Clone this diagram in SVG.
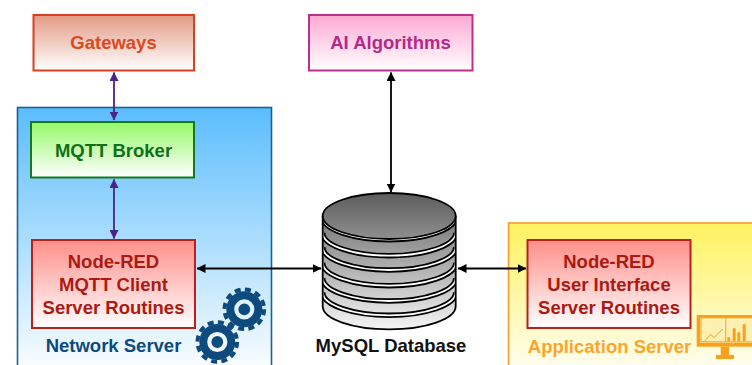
<svg xmlns="http://www.w3.org/2000/svg" width="752" height="365" viewBox="0 0 752 365">
<defs>
<linearGradient id="gGate" x1="0" y1="0" x2="0" y2="1"><stop offset="0" stop-color="#e39a85"/><stop offset="1" stop-color="#fff"/></linearGradient>
<linearGradient id="gAI" x1="0" y1="0" x2="0" y2="1"><stop offset="0" stop-color="#ffa9d3"/><stop offset="1" stop-color="#fff"/></linearGradient>
<linearGradient id="gNet" x1="0" y1="0" x2="0" y2="1"><stop offset="0" stop-color="#5bbdfd"/><stop offset="1" stop-color="#fff"/></linearGradient>
<linearGradient id="gBroker" x1="0" y1="0" x2="0" y2="1"><stop offset="0" stop-color="#95f868"/><stop offset="1" stop-color="#fff"/></linearGradient>
<linearGradient id="gRed" x1="0" y1="0" x2="0" y2="1"><stop offset="0" stop-color="#ff8f8a"/><stop offset="1" stop-color="#fff"/></linearGradient>
<linearGradient id="gApp" x1="0" y1="0" x2="0" y2="1"><stop offset="0" stop-color="#fff25f"/><stop offset="1" stop-color="#fff"/></linearGradient>
<linearGradient id="gDb" gradientUnits="userSpaceOnUse" x1="0" y1="193" x2="0" y2="330"><stop offset="0" stop-color="#5c5c5c"/><stop offset="1" stop-color="#f6f6f6"/></linearGradient>
<marker id="ap" viewBox="0 0 9 9" refX="8.5" refY="4.5" markerWidth="9" markerHeight="9" markerUnits="userSpaceOnUse" orient="auto-start-reverse"><path d="M0 0L9 4.5L0 9Z" fill="#4a2388"/></marker>
<marker id="ak" viewBox="0 0 9 9" refX="8.5" refY="4.5" markerWidth="9" markerHeight="9" markerUnits="userSpaceOnUse" orient="auto-start-reverse"><path d="M0 0L9 4.5L0 9Z" fill="#000"/></marker>
<path id="arc" d="M322.7 0A66.5 23 0 0 0 455.7 0"/>
<clipPath id="cyl"><rect x="322.7" y="210" width="133" height="125"/></clipPath>
</defs>
<style>
text{font-family:"Liberation Sans",Arial,sans-serif;font-weight:700;font-size:18.5px;text-anchor:middle}
.box{stroke-width:2}
.c{fill:none;stroke-width:1.8}
.p{stroke:#4a2388;marker-start:url(#ap);marker-end:url(#ap)}
.k{stroke:#000;marker-start:url(#ak);marker-end:url(#ak)}
.red{fill:#ab1a12}
.redbox{fill:url(#gRed);stroke:#b8221b}
.gear{fill:#0d4a7d}
.teeth{fill:none;stroke:#0d4a7d;stroke-width:4;stroke-dasharray:6 4.37}
.ab{fill:none;stroke:#000;stroke-width:5.4}
.aw{fill:none;stroke:#fff;stroke-width:1.8}
.mon{fill:#f9a01e}
.ml{fill:none;stroke:#f9a01e;stroke-width:1}
</style>
<rect width="752" height="365" fill="#fff"/>
<g id="network-server">
<rect x="17.5" y="107.5" width="254" height="270" fill="url(#gNet)" stroke="#1a6294" stroke-width="1.6"/>
<text x="113.5" y="352" fill="#0d4a7d">Network Server</text>
</g>
<g id="application-server">
<rect x="508.5" y="223" width="260" height="160" fill="url(#gApp)" stroke="#fb9d2c" stroke-width="1.6"/>
<text x="609.5" y="352.5" fill="#fba52c">Application Server</text>
</g>
<g id="gateways">
<rect class="box" x="33.5" y="15" width="160.5" height="55.5" fill="url(#gGate)" stroke="#d8401f"/>
<text x="113.5" y="49" fill="#db4a1f">Gateways</text>
</g>
<g id="ai-algorithms">
<rect class="box" x="309" y="15" width="163.5" height="55.5" fill="url(#gAI)" stroke="#bb2f8d"/>
<text x="390.5" y="49" fill="#b32a87">AI Algorithms</text>
</g>
<g id="mqtt-broker">
<rect class="box" x="31" y="122" width="163" height="55.5" fill="url(#gBroker)" stroke="#167a1c"/>
<text x="113.5" y="157" fill="#0f7116">MQTT Broker</text>
</g>
<g id="node-red-mqtt">
<rect class="box redbox" x="32" y="240" width="163" height="88"/>
<text class="red" x="113.5" y="268">Node-RED</text>
<text class="red" x="113.5" y="291">MQTT Client</text>
<text class="red" x="113.5" y="314">Server Routines</text>
</g>
<g id="node-red-ui">
<rect class="box redbox" x="527.5" y="240" width="163" height="88"/>
<text class="red" x="609" y="268">Node-RED</text>
<text class="red" x="609" y="291">User Interface</text>
<text class="red" x="609" y="314">Server Routines</text>
</g>
<g id="gears">
<g id="gear-a">
<circle class="gear" cx="244.3" cy="309.3" r="18"/>
<circle class="teeth" cx="244.3" cy="309.3" r="19.8"/>
<circle cx="244.3" cy="309.3" r="8" fill="none" stroke="#dff1fd" stroke-width="4.2"/>
</g>
<g id="gear-b">
<circle class="gear" cx="217.3" cy="342" r="18"/>
<circle class="teeth" cx="217.3" cy="342" r="19.8"/>
<circle cx="217.3" cy="342" r="8" fill="none" stroke="#eef8fe" stroke-width="4.2"/>
</g>
</g>
<g id="monitor">
<rect class="mon" x="696.7" y="315" width="55.3" height="31.7"/>
<rect x="700" y="318.3" width="52" height="24.5" fill="#fdf0b0"/>
<path class="ml" d="M701 318.5V341.8H752M725.7 318.5V341.8"/>
<path class="ml" d="M704.7 341L710.7 334.3L714 337.7L722.7 329"/>
<path class="mon" d="M727.3 337.3h2.800V341h-2.800zM732.7 328.3h3V341h-3zM737.3 332.3h3V341h-3zM742.7 324.3h3V341h-3z"/>
<path class="mon" d="M720.7 346.7h8.300v8.300h5v4h-18v-4h4.700z"/>
</g>
<g id="mysql-database">
<path d="M322.7 216V306.3A66.5 23 0 0 0 455.7 306.3V216Z" fill="url(#gDb)"/>
<g clip-path="url(#cyl)">
<use href="#arc" class="ab" y="292.3"/><use href="#arc" class="aw" y="292.3"/>
<use href="#arc" class="ab" y="278"/><use href="#arc" class="aw" y="278"/>
<use href="#arc" class="ab" y="262.7"/><use href="#arc" class="aw" y="262.7"/>
<use href="#arc" class="ab" y="247"/><use href="#arc" class="aw" y="247"/>
<use href="#arc" class="ab" y="232.7"/><use href="#arc" class="aw" y="232.7"/>
<use href="#arc" class="ab" y="216.7"/><use href="#arc" class="aw" y="216.7"/>
</g>
<path d="M322.7 216V306.3A66.5 23 0 0 0 455.7 306.3V216" fill="none" stroke="#000" stroke-width="1.8"/>
<ellipse cx="389.2" cy="216" rx="66.5" ry="23" fill="url(#gDb)" stroke="#000" stroke-width="1.8"/>
<text x="391" y="351.7" fill="#111">MySQL Database</text>
</g>
<g id="connectors">
<path class="c p" d="M114 72.5V120"/>
<path class="c p" d="M114 179.5V238.5"/>
<path class="c k" d="M391 72.5V192"/>
<path class="c k" d="M197 268.5H321"/>
<path class="c k" d="M458 268.5H526"/>
</g>
</svg>
